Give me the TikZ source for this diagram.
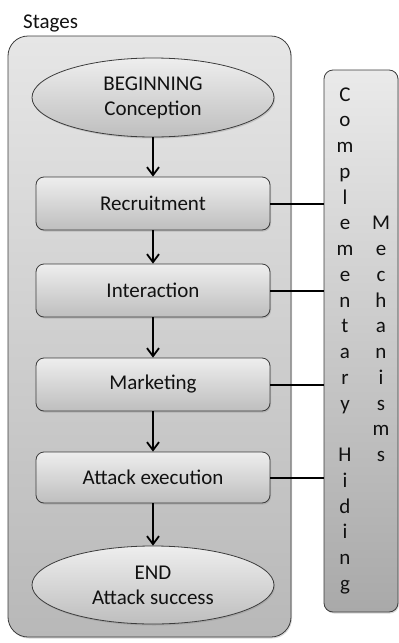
\documentclass[tikz,border=0pt]{standalone}
\usepackage{fontspec}
\setmainfont{Carlito}
\usetikzlibrary{shapes.geometric,shadows,arrows.meta}

\definecolor{ink}{HTML}{111111}
\definecolor{edge}{HTML}{3C3C3C}
\definecolor{paneltop}{HTML}{E6E6E6}
\definecolor{panelbot}{HTML}{B8B8B8}
\definecolor{boxtop}{HTML}{EEEEEE}
\definecolor{boxbot}{HTML}{BEBEBE}
\definecolor{sidetop}{HTML}{EAEAEA}
\definecolor{sidebot}{HTML}{A9A9A9}

\tikzset{
  softshadow/.style={drop shadow={opacity=0.30, shadow xshift=1pt, shadow yshift=-1.5pt}},
  panel/.style={draw=edge, line width=0.8pt, rounded corners=20pt, inner sep=0pt,
    top color=paneltop, bottom color=panelbot, softshadow},
  sidepanel/.style={draw=edge, line width=0.8pt, rounded corners=9pt, inner sep=0pt,
    top color=sidetop, bottom color=sidebot, softshadow},
  stagebox/.style={draw=edge, line width=0.8pt, rounded corners=8pt, inner sep=0pt,
    minimum width=234pt, minimum height=53pt,
    top color=boxtop, bottom color=boxbot, softshadow},
  terminal/.style={ellipse, draw=edge, line width=0.8pt, inner sep=0pt,
    minimum width=242pt, minimum height=79pt, align=center,
    top color=boxtop, bottom color=boxbot, softshadow},
  flow/.style={line width=1.8pt, -{Straight Barb[length=8pt,width=12pt,line width=1.8pt]}},
  link/.style={line width=2pt},
  letter/.style={anchor=base, inner sep=0pt},
}

\begin{document}
\begin{tikzpicture}[x=1pt, y=-1pt, text=ink,
  font=\fontsize{21}{25}\selectfont]
\useasboundingbox (0,0) rectangle (399,643);

% container for the stages
\node[panel, minimum width=283pt, minimum height=601pt] (stages) at (149.5,336.5) {};
\node[anchor=base west, inner sep=0pt] (title) at (23,28) {Stages};

% side bar with the hiding mechanisms
\node[sidepanel, minimum width=74pt, minimum height=542pt] (side) at (361,341) {};

% stage sequence
\node[terminal] (begin) at (153,97.5) {BEGINNING\\Conception};
\node[stagebox] (rec) at (153,203.5) {Recruitment};
\node[stagebox] (int) at (153,290.5) {Interaction};
\node[stagebox] (mkt) at (153,384.5) {Marketing};
\node[stagebox, minimum height=51pt] (atk) at (153,477.5) {Attack execution};
\node[terminal, minimum height=78pt] (finish) at (153,585) {END\\Attack success};

\draw[flow] (begin) -- (rec);
\draw[flow] (rec) -- (int);
\draw[flow] (int) -- (mkt);
\draw[flow] (mkt) -- (atk);
\draw[flow] (atk) -- (finish);

% links from each stage to the side bar
\foreach \s in {rec,int,mkt,atk}
  \draw[link] (\s.east) -- (\s.east -| side.west);

% vertical lettering
\foreach \ch [count=\k from 0] in {C,o,m,p,l,e,m,e,n,t,a,r,y}
  \node[letter] (cl\k) at (345,{101+25.75*\k}) {\ch};
\foreach \ch [count=\k from 14] in {H,i,d,i,n,g}
  \node[letter] (cl\k) at (345,{101+25.75*\k}) {\ch};
\foreach \ch [count=\k from 5] in {M,e,c,h,a,n,i,s,m,s}
  \node[letter] (mr\k) at (381,{101+25.75*\k}) {\ch};
\end{tikzpicture}
\end{document}
